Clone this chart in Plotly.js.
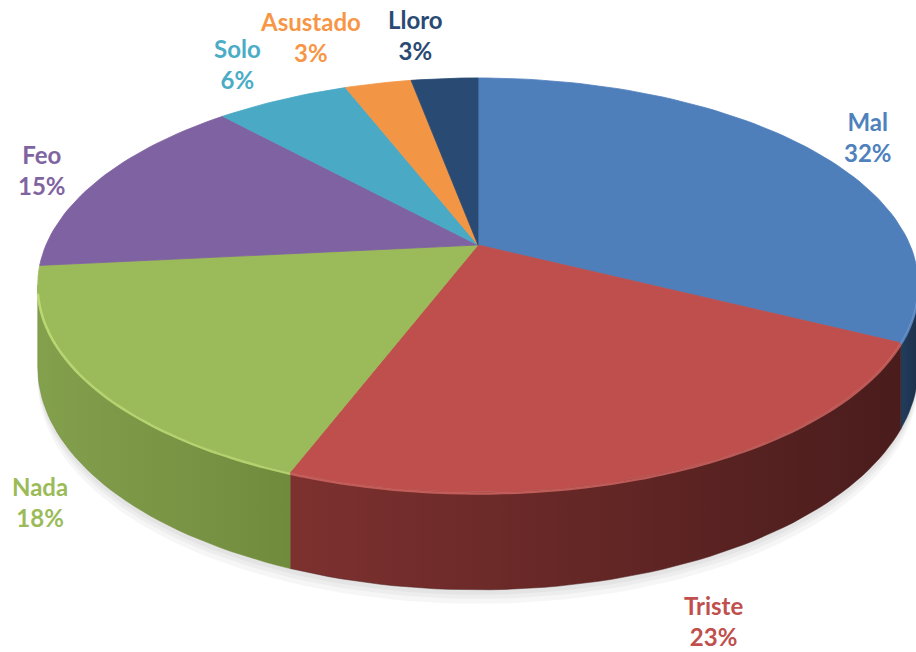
<!DOCTYPE html>
<html>
<head>
<meta charset="utf-8">
<script src="https://cdn.plot.ly/plotly-3.0.1.min.js"></script>
<style>html,body{margin:0;padding:0;background:#fff;}#chart{width:916px;height:652px;}</style>
</head>
<body>
<div id="chart"></div>
<script>
// ---- data (shares estimated from slice geometry; labels show the rounded %) ----
const categories = ['Mal', 'Triste', 'Nada', 'Feo', 'Solo', 'Asustado', 'Lloro'];
const values = [32.4, 23.4, 17.6, 14.8, 5.9, 2.95, 2.95];

// ---- styles ----
const topColors  = ['#4f7fbb', '#bf4f4c', '#9bba59', '#7f62a1', '#4aa9c4', '#f29544', '#284a73'];
const textColors = ['#4f81bd', '#c0504d', '#9bbb59', '#8064a2', '#4bacc6', '#f79646', '#2a4a73'];
const wallScales = [
  [[0, '#223d5e'], [1, '#1c3049']],
  [[0, '#7d312f'], [1, '#4a1c1c']],
  [[0, '#83a04d'], [1, '#718b3d']],
  [[0, '#5e4878'], [1, '#4f3c66']],
  [[0, '#37809a'], [1, '#2e6c82']],
  [[0, '#b86e30'], [1, '#a05f28']],
  [[0, '#1e3756'], [1, '#1a2f4a']]
];
const rimColors = ['#6d9ad6', '#de6d69', '#c8e77d', '#9d80c0', '#74cde4', '#ffb66c', '#3f6699'];
// label anchor points (page pixels)
const labelAt = [[868, 137], [713, 621], [40, 502], [42, 170], [237, 64], [310, 37], [415, 35]];

// ---- projection of the tilted disc ----
const cx = 478, cy = 245, A = 432, B = 199.3, g = -0.193, D = 79;
function P(phiDeg, bottom, extra) {
  const t = phiDeg * Math.PI / 180;
  const u = Math.sin(t), v = -Math.cos(t);
  const w = 1 + g * v;
  return [cx + A * u / w, cy + (B * v + (bottom ? D : 0)) / w + (extra || 0)];
}
function arc(a0, a1, bottom, extra) {
  const pts = [];
  const n = Math.max(2, Math.ceil(Math.abs(a1 - a0) / 1.5));
  for (let i = 0; i <= n; i++) pts.push(P(a0 + (a1 - a0) * i / n, bottom, extra));
  return pts;
}

const total = values.reduce((s, v) => s + v, 0);
const bounds = [];
let acc = 0;
values.forEach(v => { const a0 = acc / total * 360; acc += v; bounds.push([a0, acc / total * 360]); });

const traces = [];

// soft shadow under the disc
[14, 9, 5].forEach(off => {
  const pts = arc(0, 360, true, off);
  traces.push({
    type: 'scatter', mode: 'lines', x: pts.map(p => p[0]), y: pts.map(p => p[1]),
    fill: 'toself', fillcolor: 'rgba(0,0,0,0.035)', line: {width: 0}, hoverinfo: 'skip'
  });
});

// visible side walls
const visLo = Math.acos(g) * 180 / Math.PI;      // ~101 deg
const visHi = 360 - visLo;                       // ~259 deg
bounds.forEach((b, i) => {
  const a0 = Math.max(b[0], visLo), a1 = Math.min(b[1], visHi);
  if (a1 <= a0) return;
  const topPts = arc(a0, a1, false);
  const botPts = arc(a1, a0, true);
  const pts = topPts.concat(botPts);
  pts.push(topPts[0]);
  traces.push({
    type: 'scatter', mode: 'lines', x: pts.map(p => p[0]), y: pts.map(p => p[1]),
    fill: 'toself', fillgradient: {type: 'horizontal', colorscale: wallScales[i]},
    line: {width: 0.5, color: wallScales[i][1][1]}, hoverinfo: 'skip'
  });
});

// top faces
bounds.forEach((b, i) => {
  const pts = [[cx, cy]].concat(arc(b[0], b[1], false));
  pts.push([cx, cy]);
  traces.push({
    type: 'scatter', mode: 'lines', x: pts.map(p => p[0]), y: pts.map(p => p[1]),
    fill: 'toself', fillcolor: topColors[i],
    line: {width: 0.8, color: topColors[i]}, hoverinfo: 'skip'
  });
});

// rim highlight on the front edge
bounds.forEach((b, i) => {
  const a0 = Math.max(b[0], visLo + 4), a1 = Math.min(b[1], visHi - 2);
  if (a1 <= a0) return;
  const pts = arc(a0, a1, false, 1.5);
  traces.push({
    type: 'scatter', mode: 'lines', x: pts.map(p => p[0]), y: pts.map(p => p[1]),
    line: {width: 2.5, color: rimColors[i], shape: 'spline'}, opacity: 0.75, hoverinfo: 'skip'
  });
});

const annotations = categories.map((c, i) => ({
  x: labelAt[i][0], y: labelAt[i][1], xref: 'x', yref: 'y',
  text: '<b>' + c + '<br>' + Math.round(values[i] / total * 100) + '%</b>',
  showarrow: false, align: 'center', xanchor: 'center', yanchor: 'middle',
  font: {family: 'Lato, "Open Sans", sans-serif', size: 24, color: textColors[i]}
}));

const layout = {
  width: 916, height: 652,
  margin: {l: 0, r: 0, t: 0, b: 0},
  paper_bgcolor: '#ffffff', plot_bgcolor: '#ffffff',
  showlegend: false, hovermode: false, dragmode: false,
  xaxis: {range: [0, 916], visible: false, fixedrange: true},
  yaxis: {range: [652, 0], visible: false, fixedrange: true},
  annotations: annotations
};

Plotly.newPlot('chart', traces, layout, {staticPlot: true, displayModeBar: false});
</script>
</body>
</html>
